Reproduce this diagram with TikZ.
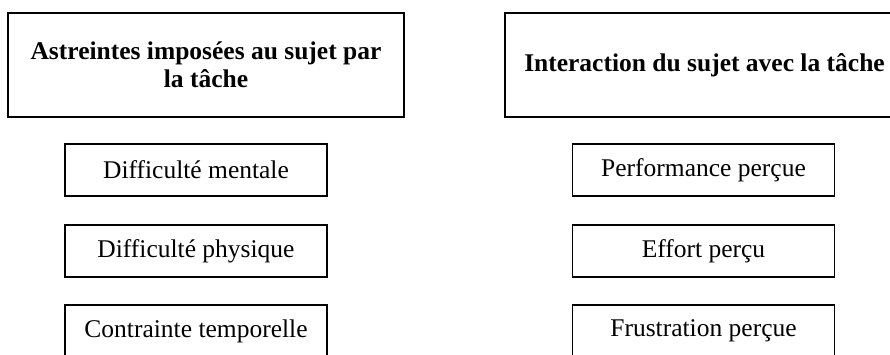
\documentclass[tikz,border=0pt]{standalone}
\usepackage{fontspec}
\setmainfont{Liberation Serif}
\usepackage{xcolor}

\begin{document}
\begin{tikzpicture}
			[line join=miter,x=1pt,y=1pt,
			titre/.style={draw,line width=1.6pt,inner sep=0pt,align=center,minimum height=104pt,font=\fontsize{25.5}{28}\selectfont\bfseries},
			item/.style={draw,line width=1.4pt,inner sep=0pt,minimum width=262pt,minimum height=52pt,font=\fontsize{25.5}{28}\selectfont}]
			\useasboundingbox (0,0) rectangle (890,354);
			\clip (0,0) rectangle (890,354);
			\node [titre,minimum width=396pt] (astreintes) at (206,289) {Astreintes imposées au sujet par\\la tâche};
			\node [titre,minimum width=399pt] (interaction) at (704.5,289) {Interaction du sujet avec la tâche};
			\node [item] (mentale) at (196,184) {Difficulté mentale};
			\node [item] (physique) at (196,103) {Difficulté physique};
			\node [item] (temporelle) at (196,23) {Contrainte temporelle};
			\node [item] (performance) at (703.5,184) {Performance perçue};
			\node [item] (effort) at (703.5,103) {Effort perçu};
			\node [item] (frustration) at (703.5,23) {Frustration perçue};
		\end{tikzpicture}
\end{document}
